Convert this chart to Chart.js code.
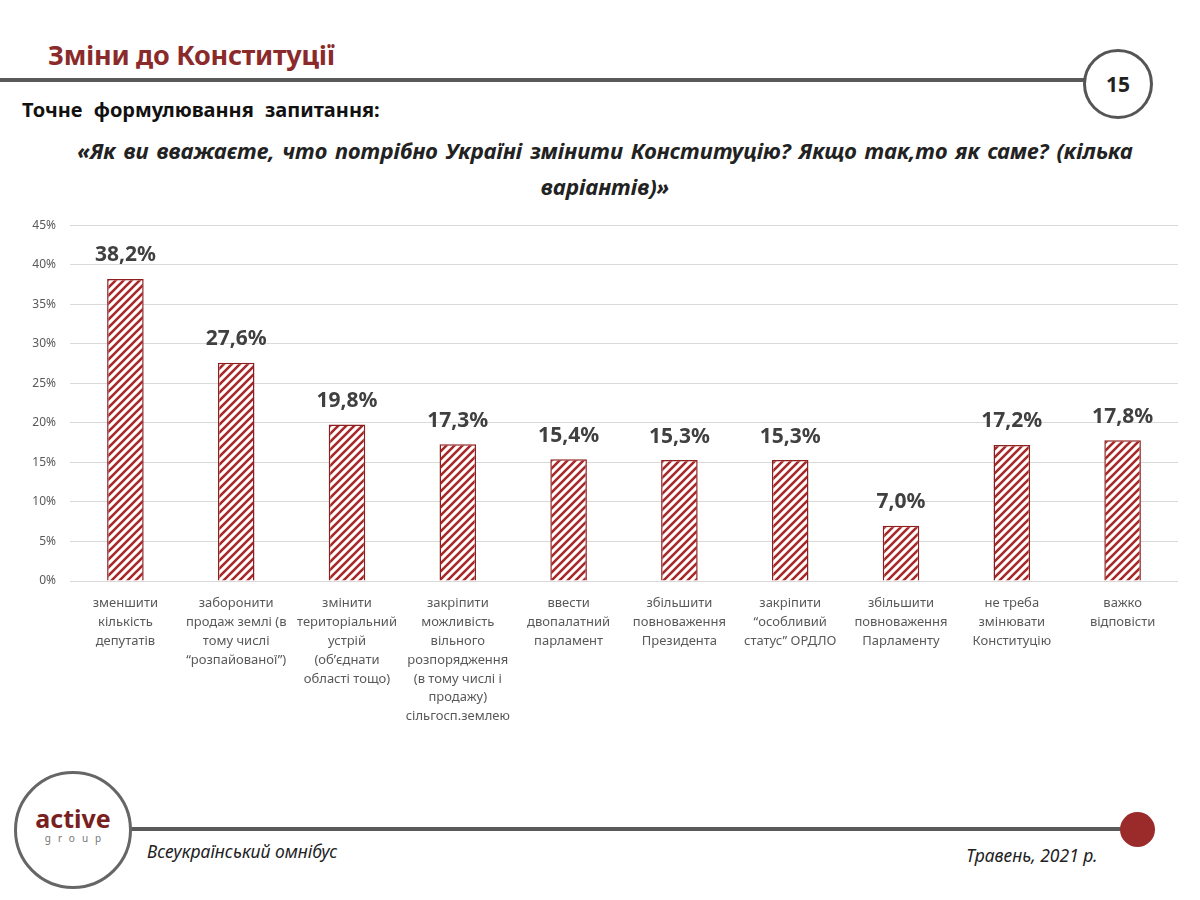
<!DOCTYPE html>
<html>
<head>
<meta charset="utf-8">
<script src="https://cdn.jsdelivr.net/npm/chart.js@4"></script>
<style>
  html, body { margin: 0; padding: 0; background: #fff; }
  body { width: 1200px; height: 900px; position: relative; overflow: hidden; font-family: "Noto Sans", sans-serif; }
  .abs { position: absolute; }
  #title { left: 48px; top: 36px; font-size: 27px; font-weight: bold; color: #8b2a2a; letter-spacing: -0.3px; }
  #topLine { left: 0; top: 78px; width: 1086px; height: 4px; background: #5a5a5a; }
  #pageNo { left: 1083px; top: 49px; width: 64px; height: 64px; border: 3px solid #555; border-radius: 50%; text-align: center; line-height: 64px; font-size: 21px; font-weight: bold; color: #222; }
  #q1 { left: 22px; top: 96px; font-size: 20px; font-weight: bold; color: #111; word-spacing: 6px; }
  #q2 { left: 30px; top: 132px; width: 1150px; text-align: center; font-size: 22px; font-weight: bold; font-style: italic; color: #222; line-height: 36px; word-spacing: 2px; }
  #chartBox { left: 0; top: 204px; width: 1200px; height: 535px; }
  #botLine { left: 110px; top: 827px; width: 1020px; height: 4px; background: #5a5a5a; }
  #redDot { left: 1120px; top: 812px; width: 35px; height: 35px; border-radius: 50%; background: #9b2b2b; }
  #logo { left: 14px; top: 771px; width: 112px; height: 112px; border: 3px solid #666; border-radius: 50%; background: #fff; text-align: center; }
  #logo .a { margin-top: 30px; font-size: 25px; font-weight: bold; color: #7a1f1f; line-height: 28px; }
  #logo .g { font-size: 10px; letter-spacing: 7px; color: #777; line-height: 12px; padding-left: 7px; }
  #f1 { left: 147px; top: 839px; font-size: 17.5px; font-style: italic; color: #222; }
  #f2 { left: 966px; top: 843px; font-size: 17.5px; font-style: italic; color: #222; }
</style>
</head>
<body>
<div id="title" class="abs">Зміни до Конституції</div>
<div id="topLine" class="abs"></div>
<div id="pageNo" class="abs">15</div>
<div id="q1" class="abs">Точне формулювання  запитання:</div>
<div id="q2" class="abs">«Як ви вважаєте, что потрібно Україні змінити Конституцію? Якщо так,то як саме? (кілька<br>варіантів)»</div>
<div id="chartBox" class="abs"><canvas id="chart" width="1200" height="535"></canvas></div>
<div id="botLine" class="abs"></div>
<div id="redDot" class="abs"></div>
<div id="logo" class="abs"><div class="a">active</div><div class="g">group</div></div>
<div id="f1" class="abs">Всеукраїнський омнібус</div>
<div id="f2" class="abs">Травень, 2021 р.</div>

<script>
const categories = [
    ["зменшити", "кількість", "депутатів"],
    ["заборонити", "продаж землі (в", "тому числі", "“розпайованої”)"],
    ["змінити", "територіальний", "устрій", "(об’єднати", "області тощо)"],
    ["закріпити", "можливість", "вільного", "розпорядження", "(в тому числі і", "продажу)", "сільгосп.землею"],
    ["ввести", "двопалатний", "парламент"],
    ["збільшити", "повноваження", "Президента"],
    ["закріпити", "“особливий", "статус” ОРДЛО"],
    ["збільшити", "повноваження", "Парламенту"],
    ["не треба", "змінювати", "Конституцію"],
    ["важко", "відповісти"]
];
const values = [38.2, 27.6, 19.8, 17.3, 15.4, 15.3, 15.3, 7.0, 17.2, 17.8];
const yTicks = [0, 5, 10, 15, 20, 25, 30, 35, 40, 45];

function makeHatch()
{
    const c = document.createElement("canvas");
    c.width = 8;
    c.height = 8;
    const ctx = c.getContext("2d");
    ctx.fillStyle = "#ffffff";
    ctx.fillRect(0, 0, 8, 8);
    ctx.strokeStyle = "#a82828";
    ctx.lineWidth = 2.6;
    ctx.beginPath();
    ctx.moveTo(-1, 9); ctx.lineTo(9, -1);
    ctx.moveTo(-3, 3); ctx.lineTo(3, -3);
    ctx.moveTo(5, 11); ctx.lineTo(11, 5);
    ctx.stroke();
    return c;
}

const valueLabels = {
    id: "valueLabels",
    afterDatasetsDraw(chart)
    {
        const ctx = chart.ctx;
        const meta = chart.getDatasetMeta(0);
        ctx.save();
        ctx.font = "bold 21px 'Noto Sans'";
        ctx.fillStyle = "#404040";
        ctx.textAlign = "center";
        ctx.textBaseline = "bottom";
        meta.data.forEach((bar, i) => {
            ctx.fillText(values[i].toFixed(1).replace(".", ",") + "%", bar.x, bar.y - 13);
        });
        ctx.restore();
    }
};

function generateBarChart(elem)
{
    try
    {
        const ctx = elem.getContext("2d");
        const hatch = ctx.createPattern(makeHatch(), "repeat");

        const config = {
            type: "bar",
            data: {
                labels: categories,
                datasets: [{
                    data: values,
                    backgroundColor: hatch,
                    borderColor: "#8e1f1f",
                    borderWidth: 1.5,
                    barPercentage: 0.33,
                    categoryPercentage: 1.0
                }]
            },
            options: {
                responsive: false,
                animation: false,
                layout: { padding: { top: 9, right: 22, left: 0, bottom: 0 } },
                plugins: { legend: { display: false }, tooltip: { enabled: false } },
                scales: {
                    x: {
                        grid: { display: false },
                        border: { display: false },
                        ticks: {
                            color: "#595959",
                            font: { family: "Noto Sans", size: 13, lineHeight: 1.45 },
                            maxRotation: 0,
                            autoSkip: false,
                            padding: 5
                        },
                        afterFit(scale) { scale.height = 158; }
                    },
                    y: {
                        min: 0,
                        max: 45,
                        afterBuildTicks(scale) { scale.ticks = yTicks.map(v => ({ value: v })); },
                        grid: { color: "#d9d9d9", lineWidth: 1, drawTicks: false },
                        border: { display: false },
                        ticks: {
                            color: "#595959",
                            font: { family: "Noto Sans", size: 12 },
                            padding: 14,
                            callback: v => v + "%"
                        },
                        afterFit(scale) { scale.width = 70; }
                    }
                }
            },
            plugins: [valueLabels]
        };

        new Chart(elem, config);
        return true;
    }
    catch (e)
    {
        console.error(e.message);
    }
    return false;
}

generateBarChart(document.getElementById("chart"));
</script>
</body>
</html>
